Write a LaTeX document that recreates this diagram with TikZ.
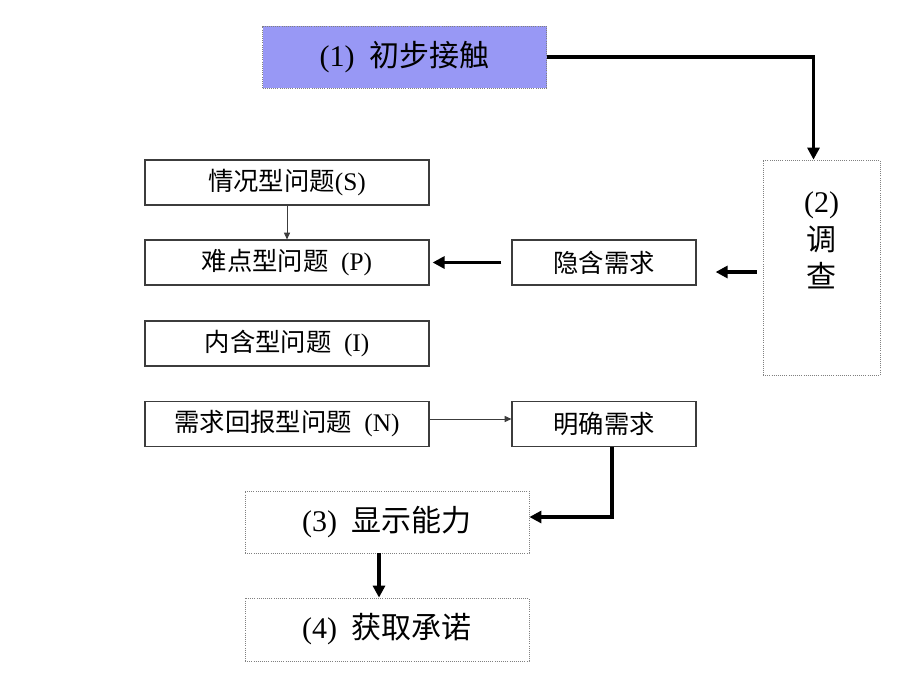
\documentclass[tikz,border=0pt]{standalone}
\usepackage{fontspec}
\setmainfont{Liberation Serif}
\newfontfamily\cjk{Noto Sans CJK SC}
\usetikzlibrary{arrows.meta,calc}
\definecolor{boxblue}{RGB}{152,152,245}
\definecolor{edgegray}{RGB}{60,60,60}
\begin{document}
\begin{tikzpicture}[x=0.75pt,y=-0.75pt,
  solidbox/.style={draw=edgegray,line width=0.9pt,fill=white,minimum width=213pt,minimum height=33.75pt,inner sep=0pt,font=\fontsize{19}{21}\selectfont},
  smallbox/.style={solidbox,minimum width=138pt},
  dotbox/.style={draw=gray,densely dotted,line width=0.6pt,fill=white,minimum width=213pt,minimum height=46.5pt,inner sep=0pt,font=\fontsize{22.5}{26}\selectfont},
  thickarrow/.style={line width=2.4pt,-{Triangle[length=9pt,width=9pt]}},
  thinarrow/.style={line width=0.6pt,draw=edgegray,-{Triangle[length=5pt,width=4.5pt]}}]
\useasboundingbox (0,0) rectangle (920,690);
\fill[white] (0,0) rectangle (920,690);
% nodes
\node[dotbox,fill=boxblue] (n1) at (404.5,57) {(1)\ \ {\cjk 初步接触}};
\node[dotbox,minimum width=87.75pt,minimum height=161.25pt] (n2) at (821.5,267.5) {};
\node[align=center,inner sep=0pt,font=\fontsize{22.5}{26}\selectfont] (n2t) at ($(n2.center)+(0,-27)$) {(2)\\[2pt]{\cjk 调}\\[2pt]{\cjk 查}};
\node[solidbox] (S) at (287,182.5) {{\cjk 情况型问题}(S)};
\node[solidbox] (P) at (287,262.5) {{\cjk 难点型问题}\ \ (P)};
\node[solidbox] (I) at (287,343.5) {{\cjk 内含型问题}\ \ (I)};
\node[solidbox] (N) at (287,424) {{\cjk 需求回报型问题}\ \ (N)};
\node[smallbox] (hid) at (604,262.5) {{\cjk 隐含需求}};
\node[smallbox] (exp) at (604,424) {{\cjk 明确需求}};
\node[dotbox] (n3) at (387,522) {(3)\ \ {\cjk 显示能力}};
\node[dotbox,minimum height=47.25pt] (n4) at (387,629.5) {(4)\ \ {\cjk 获取承诺}};
% connectors
\draw[thickarrow] (n1.east) -| ($(n2.north)+(-8,0)$);
\coordinate (a1) at ($(n2.west)+(-6,4.5)$);
\coordinate (a2) at ($(hid.east)+(19,0)$);
\draw[thickarrow] (a1) -- (a2 |- a1);
\draw[thickarrow] ($(hid.west)+(-10,0)$) -- ($(P.east)+(3,0)$);
\draw[thinarrow] (S.south) -- (P.north);
\coordinate (b1) at ($(N.east)+(0,-5)$);
\draw[thinarrow] (b1) -- (exp.west |- b1);
\draw[thickarrow] ($(exp.south)+(8,0)$) |- ($(n3.east)+(0,-5)$);
\draw[thickarrow] ($(n3.south)+(-8,0)$) -- ($(n4.north)+(-8,0)$);
\end{tikzpicture}
\end{document}
